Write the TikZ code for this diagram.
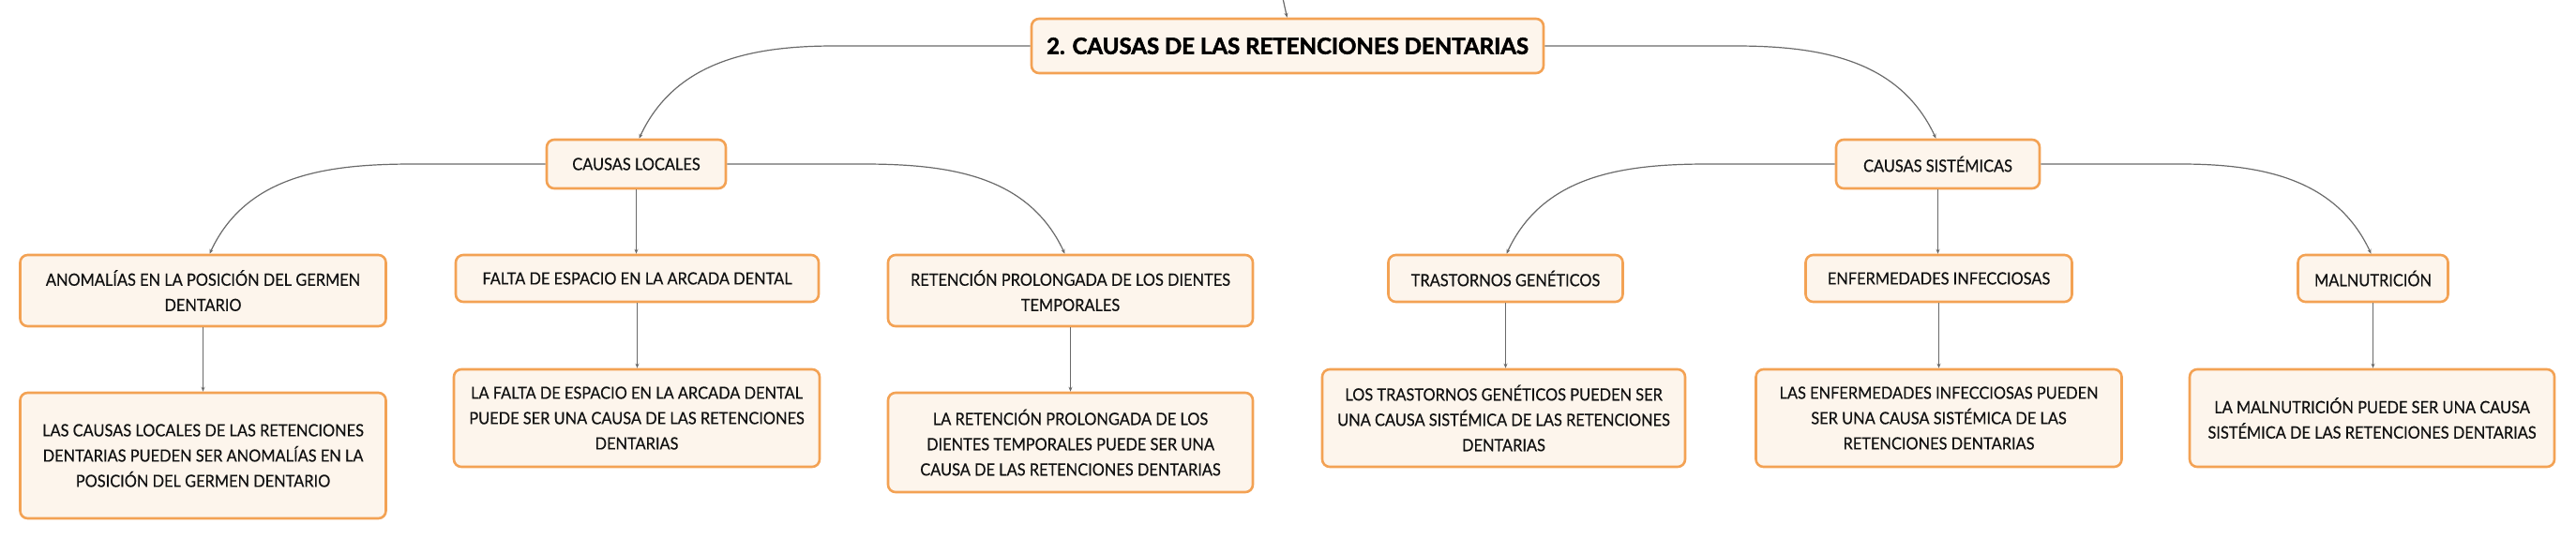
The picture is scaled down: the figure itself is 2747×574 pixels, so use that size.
\documentclass[tikz,border=0pt]{standalone}
\usepackage{fontspec}
\setmainfont{Lato}[UprightFeatures={FakeBold=0.4,FakeStretch=0.91},BoldFeatures={FakeBold=2}]
\usetikzlibrary{arrows.meta,calc}
\definecolor{boxorange}{HTML}{F3A254}
\definecolor{boxfill}{HTML}{FDF5EC}
\definecolor{linecol}{HTML}{6A6A6A}
\definecolor{textcol}{HTML}{111111}
\tikzset{
  box/.style={draw=boxorange, line width=2.6pt, fill=boxfill, rounded corners=8pt,
    inner sep=0pt, align=center, text=textcol,
    font={\fontsize{18}{27}\selectfont}},
  titlebox/.style={box, text=black, font={\bfseries\fontsize{24}{30}\selectfont}},
  conn/.style={draw=linecol, line width=1.2pt, -{Stealth[length=5pt,width=4pt]}},
}
\begin{document}
\begin{tikzpicture}[x=1pt,y=1pt]
\useasboundingbox (0,0) rectangle (2747,-574);
% nodes
\node[titlebox, minimum width=546pt, minimum height=58pt] (main) at (1373,-49) {2. CAUSAS DE LAS RETENCIONES DENTARIAS};
\node[box, minimum width=191pt, minimum height=52pt] (cl) at (678.5,-175) {CAUSAS LOCALES};
\node[box, minimum width=217pt, minimum height=52pt] (cs) at (2066.5,-175) {CAUSAS SISTÉMICAS};
\node[box, minimum width=390pt, minimum height=76pt] (anom) at (216.5,-310) {ANOMALÍAS EN LA POSICIÓN DEL GERMEN\\DENTARIO};
\node[box, minimum width=387pt, minimum height=50pt] (falta) at (679.5,-297) {FALTA DE ESPACIO EN LA ARCADA DENTAL};
\node[box, minimum width=389pt, minimum height=76pt] (ret) at (1141.5,-310) {RETENCIÓN PROLONGADA DE LOS DIENTES\\TEMPORALES};
\node[box, minimum width=250pt, minimum height=50pt] (trast) at (1605.5,-297) {TRASTORNOS GENÉTICOS};
\node[box, minimum width=284pt, minimum height=50pt] (enf) at (2067.5,-297) {ENFERMEDADES INFECCIOSAS};
\node[box, minimum width=160pt, minimum height=50pt] (mal) at (2530.5,-297) {MALNUTRICIÓN};
\node[box, minimum width=390pt, minimum height=134pt] (anomc) at (216.5,-486) {LAS CAUSAS LOCALES DE LAS RETENCIONES\\DENTARIAS PUEDEN SER ANOMALÍAS EN LA\\POSICIÓN DEL GERMEN DENTARIO};
\node[box, minimum width=390pt, minimum height=104pt] (faltac) at (679,-446) {LA FALTA DE ESPACIO EN LA ARCADA DENTAL\\PUEDE SER UNA CAUSA DE LAS RETENCIONES\\DENTARIAS};
\node[box, minimum width=389pt, minimum height=106pt] (retc) at (1141.5,-472) {LA RETENCIÓN PROLONGADA DE LOS\\DIENTES TEMPORALES PUEDE SER UNA\\CAUSA DE LAS RETENCIONES DENTARIAS};
\node[box, minimum width=387pt, minimum height=104pt] (trastc) at (1603.5,-446) {LOS TRASTORNOS GENÉTICOS PUEDEN SER\\UNA CAUSA SISTÉMICA DE LAS RETENCIONES\\DENTARIAS};
\node[box, minimum width=390pt, minimum height=104pt] (enfc) at (2067.5,-446) {LAS ENFERMEDADES INFECCIOSAS PUEDEN\\SER UNA CAUSA SISTÉMICA DE LAS\\RETENCIONES DENTARIAS};
\node[box, minimum width=389pt, minimum height=104pt] (malc) at (2529.5,-446) {LA MALNUTRICIÓN PUEDE SER UNA CAUSA\\SISTÉMICA DE LAS RETENCIONES DENTARIAS};
% connectors
\coordinate (topin) at (1367.5,4);
\draw[conn] (topin) -- ([xshift=-0.5pt]main.north);
\draw[conn] (main.west) -- ([xshift=211pt]cl.north |- main.west) to[out=180,in=65] ([xshift=3pt]cl.north);
\draw[conn] (main.east) -- ([xshift=-216pt]cs.north |- main.east) to[out=0,in=115] ([xshift=-2pt]cs.north);
\draw[conn] (cl.west) -- ([xshift=224pt]anom.north |- cl.west) to[out=180,in=65] ([xshift=7pt]anom.north);
\draw[conn] (cl.south) -- (cl.south |- falta.north);
\draw[conn] (cl.east) -- ([xshift=-221pt]ret.north |- cl.east) to[out=0,in=115] ([xshift=-6pt]ret.north);
\draw[conn] (cs.west) -- ([xshift=215pt]trast.north |- cs.west) to[out=180,in=65] ([xshift=1pt]trast.north);
\draw[conn] (cs.south) -- (cs.south |- enf.north);
\draw[conn] (cs.east) -- ([xshift=-205pt]mal.north |- cs.east) to[out=0,in=115] ([xshift=-2pt]mal.north);
\draw[conn] (anom.south) -- (anomc.north);
\draw[conn] (falta.south) -- (falta.south |- faltac.north);
\draw[conn] (ret.south) -- (retc.north);
\draw[conn] (trast.south) -- (trast.south |- trastc.north);
\draw[conn] (enf.south) -- (enfc.north);
\draw[conn] (mal.south) -- (mal.south |- malc.north);
\end{tikzpicture}
\end{document}
